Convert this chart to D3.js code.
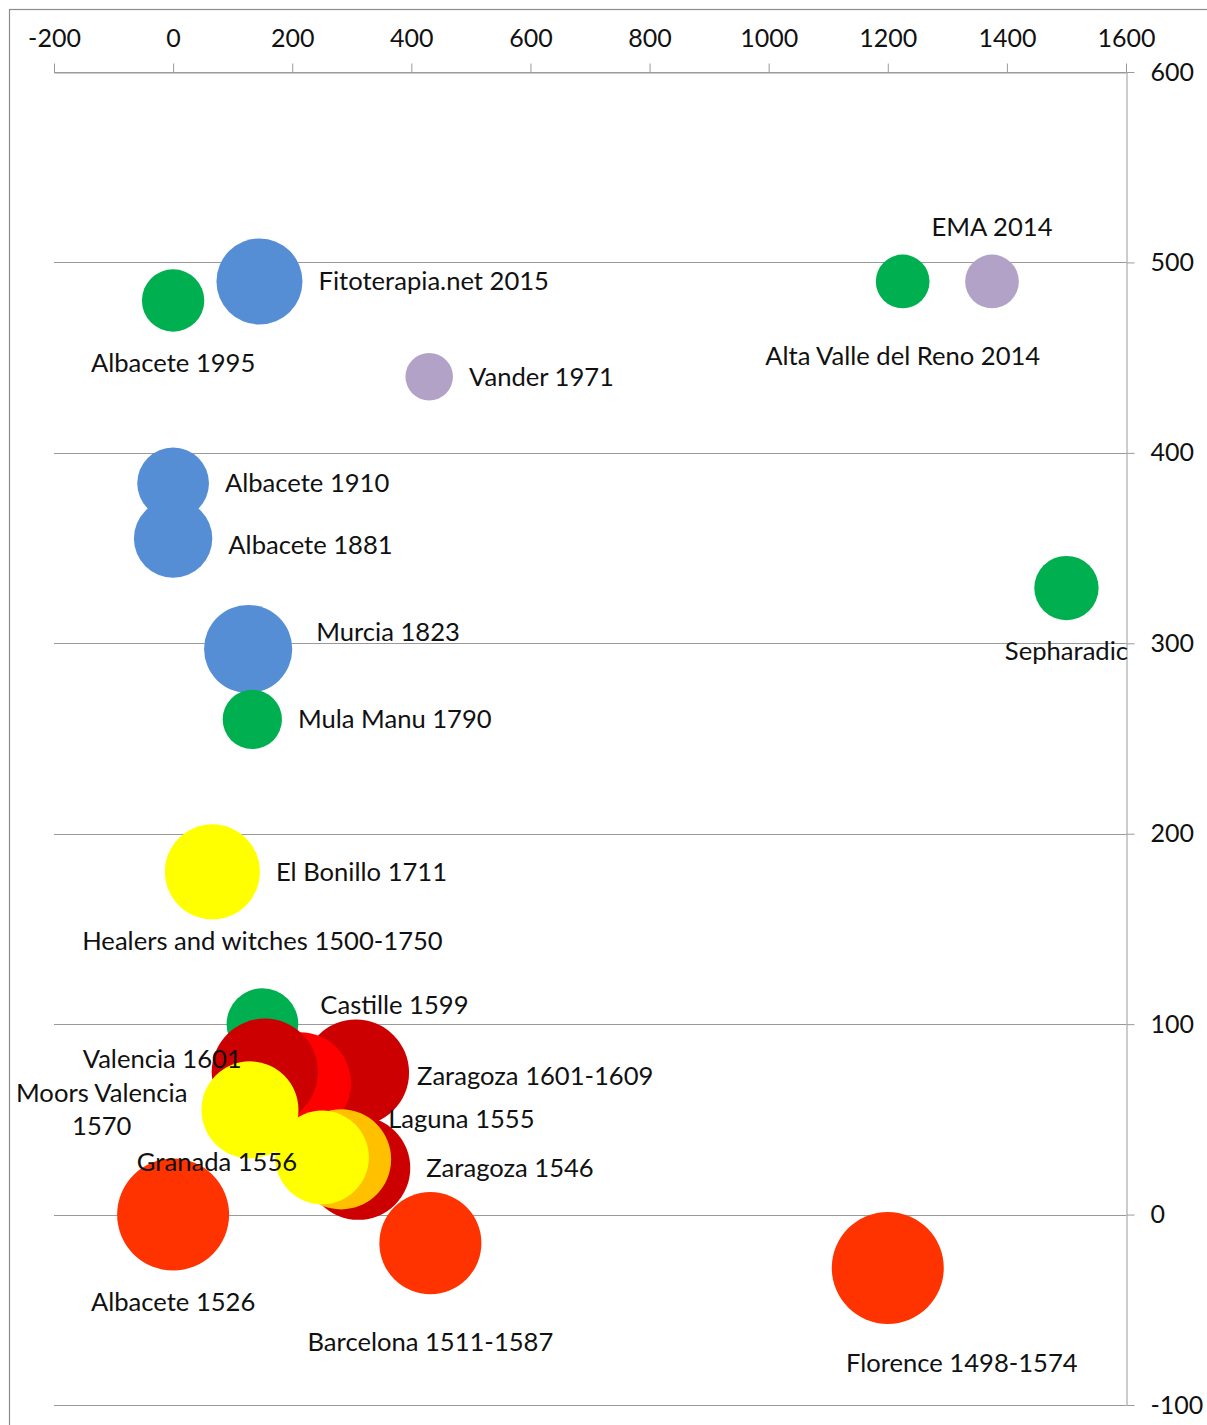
<!DOCTYPE html>
<html>
<head>
<meta charset="utf-8">
<script src="https://cdn.jsdelivr.net/npm/d3@7"></script>
<style>
  html, body { margin: 0; padding: 0; background: #fff; }
  svg { display: block; }
</style>
</head>
<body>
<svg id="chart" width="1207" height="1425"></svg>
<script>
// ---------- data ----------
const names = [
  "Albacete 1995", "Fitoterapia.net 2015", "Vander 1971", "Alta Valle del Reno 2014", "EMA 2014",
  "Albacete 1910", "Albacete 1881", "Sepharadic", "Murcia 1823", "Mula Manu 1790",
  "El Bonillo 1711", "Healers and witches 1500-1750", "Castille 1599",
  "Zaragoza 1601-1609", "Zaragoza 1546", "", "Valencia 1601", "Laguna 1555",
  "Granada 1556", "Moors Valencia|1570", "Albacete 1526", "Barcelona 1511-1587", "Florence 1498-1574"
];
const xValues = [0, 145, 430, 1225, 1375, 0, 0, 1500, 126, 133, 66, 150, 150,
  307, 311, 213, 154, 282, 250, 129, 0, 432, 1200];
const yValues = [480, 490, 440, 490, 490, 384, 355, 329, 297, 260, 180, 160, 100,
  74.5, 24.5, 69, 75, 29, 30, 55, 0, -15, -28];
const bubbleSizes = [31, 59, 18, 23, 23, 41, 49, 33, 62, 28, 72, 0, 41,
  90, 86, 83, 90, 80, 70, 75, 100, 83, 100];

const xTicks = [-200, 0, 200, 400, 600, 800, 1000, 1200, 1400, 1600];
const yTicks = [-100, 0, 100, 200, 300, 400, 500, 600];

// ---------- styles (kept apart from the data) ----------
const GREEN = "#00B050", BLUE = "#558ED5", LAV = "#B3A2C7", YEL = "#FFFF00",
      ORR = "#FF3300", DRED = "#CC0000", RED = "#FF0000", ORA = "#FFC000";
const bubbleColors = [GREEN, BLUE, LAV, GREEN, LAV, BLUE, BLUE, GREEN, BLUE, GREEN,
  YEL, YEL, GREEN, DRED, DRED, RED, DRED, ORA, YEL, YEL, ORR, ORR, ORR];
const labelSide = ["b", "r", "r", "b", "t", "r", "r", "b", "r", "r", "r", "b", "r",
  "r", "r", "r", "l", "r", "l", "l", "b", "b", "b"];
const labelNudge = {
  "Albacete 1881": [0, 6],
  "Murcia 1823": [8, -17],
  "Castille 1599": [6, -19],
  "Zaragoza 1601-1609": [-8, 3],
  "Laguna 1555": [-19, -40],
  "Valencia 1601": [44, -13],
  "Granada 1556": [36, 5],
  "Alta Valle del Reno 2014": [0, 17],
  "Barcelona 1511-1587": [0, 17],
  "Florence 1498-1574": [74, 8]
};

const FONT = "Lato, 'Open Sans', sans-serif";
const FS = 25;
const LFS = 25.6;

// ---------- chart ----------
const svg = d3.select("#chart");

// outer frame
svg.append("rect")
  .attr("x", 9.5).attr("y", 9.5)
  .attr("width", 1300).attr("height", 1500)
  .attr("fill", "none").attr("stroke", "#8c8c8c").attr("stroke-width", 1.2);

const x = d3.scaleLinear().domain([-200, 1600]).range([54, 1126]);
const y = d3.scaleLinear().domain([-100, 600]).range([1405, 72]);
const r = d3.scaleSqrt().domain([0, 100]).range([0, 56]);

// horizontal gridlines
svg.append("g").selectAll("line").data(yTicks).join("line")
  .attr("x1", x(-200)).attr("x2", x(1600))
  .attr("y1", d => Math.round(y(d)) + 0.5).attr("y2", d => Math.round(y(d)) + 0.5)
  .attr("stroke", "#9a9a9a").attr("stroke-width", 1);

const fmt = d => String(d);

// x axis on top
const xAxis = svg.append("g")
  .attr("transform", `translate(0,${Math.round(y(600)) + 0.5})`)
  .call(d3.axisTop(x).tickValues(xTicks).tickSize(9).tickSizeOuter(0).tickPadding(17).tickFormat(fmt));
xAxis.select(".domain").attr("stroke", "#9a9a9a");
xAxis.selectAll(".tick line").attr("stroke", "#9a9a9a");
xAxis.selectAll(".tick text").attr("font-family", FONT).attr("font-size", FS).attr("fill", "#111");

// y axis on right
const yAxis = svg.append("g")
  .attr("transform", `translate(${Math.round(x(1600)) + 0.5},0)`)
  .call(d3.axisRight(y).tickValues(yTicks).tickSize(8).tickSizeOuter(0).tickPadding(16).tickFormat(fmt));
yAxis.select(".domain").attr("stroke", "#9a9a9a");
yAxis.selectAll(".tick line").attr("stroke", "#9a9a9a");
yAxis.selectAll(".tick text").attr("font-family", FONT).attr("font-size", FS).attr("fill", "#111");

// data rows
const rows = names.map((n, i) => ({
  name: n, x: xValues[i], y: yValues[i], size: bubbleSizes[i],
  color: bubbleColors[i], side: labelSide[i]
}));

// bubbles
svg.append("g").selectAll("circle").data(rows.filter(d => d.size > 0)).join("circle")
  .attr("cx", d => x(d.x)).attr("cy", d => y(d.y)).attr("r", d => r(d.size))
  .attr("fill", d => d.color);

// labels
const lg = svg.append("g")
  .attr("font-family", FONT).attr("font-size", LFS).attr("fill", "#111");
rows.filter(d => d.name).forEach(d => {
  const cx = x(d.x), cy = y(d.y), rr = r(d.size);
  const nudge = labelNudge[d.name] || [0, 0];
  const lines = d.name.split("|");
  const lh = 33;
  let tx, ty, anchor;
  if (d.side === "r") { tx = cx + rr + 16; ty = cy; anchor = "start"; }
  else if (d.side === "l") { tx = cx - rr - 14; ty = cy; anchor = "end"; }
  else if (d.side === "b") { tx = cx; ty = cy + rr + 31; anchor = "middle"; }
  else { tx = cx; ty = cy - rr - 28; anchor = "middle"; }
  tx += nudge[0]; ty += nudge[1];
  const t = lg.append("text").attr("text-anchor", "middle");
  lines.forEach((ln, k) => {
    t.append("tspan").attr("x", 0).attr("y", (k - (lines.length - 1) / 2) * lh).attr("dy", "0.35em").text(ln);
  });
  const w = d3.max(t.selectAll("tspan").nodes(), n => n.getComputedTextLength());
  let bx = tx;
  if (anchor === "start") bx = tx + w / 2;
  else if (anchor === "end") bx = tx - w / 2;
  t.attr("transform", `translate(${bx},${ty})`);
});
</script>
</body>
</html>
